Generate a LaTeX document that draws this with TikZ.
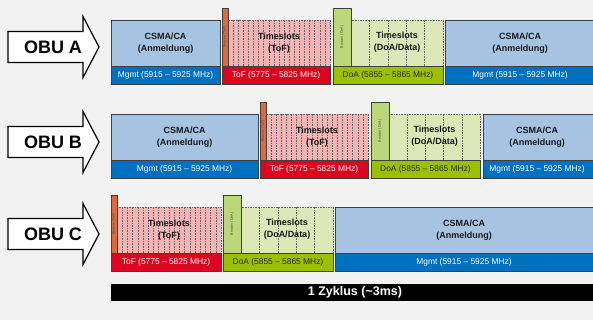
\documentclass[tikz,border=0pt]{standalone}
\usepackage{fontspec}
\setmainfont{Liberation Sans}
\definecolor{bg}{HTML}{F2F2F2}
\definecolor{csma}{HTML}{A6C4E2}
\definecolor{mgmt}{HTML}{0070C0}
\definecolor{tofbar}{HTML}{DC0520}
\definecolor{tofslot}{HTML}{F2B4B4}
\definecolor{tofbeacon}{HTML}{E2683C}
\definecolor{doabar}{HTML}{9BC000}
\definecolor{doaslot}{HTML}{DCE7B8}
\definecolor{doabeacon}{HTML}{BCD67A}
\tikzset{
  frame/.style={draw=black!75, line width=0.7pt},
  slotline/.style={draw=black!60, line width=0.6pt, dash pattern=on 1.6pt off 1pt},
  title/.style={font=\fontsize{9}{12.5}\selectfont\bfseries, align=center, text=black!90, inner sep=0pt},
  bartext/.style={font=\fontsize{8.4}{10}\selectfont, inner sep=0pt},
  beacontext/.style={font=\fontsize{3.6}{4}\selectfont, rotate=90, inner sep=0pt, text=black!70},
  obu/.style={font=\fontsize{18}{20}\selectfont\bfseries, inner sep=0pt},
  arrowshape/.style={draw=black, fill=white, line width=1.2pt, line join=miter},
}
% x1, x2 (box), xc (text centre), top, name
\newcommand{\csmabox}[5]{%
  \fill[csma] (#1,#4) rectangle (#2,#4+46);
  \fill[mgmt] (#1,#4+46) rectangle (#2,#4+64);
  \draw[frame] (#1,#4) rectangle (#2,#4+64);
  \draw[frame] (#1,#4+46) -- (#2,#4+46);
  \node[title] (#5t) at (#3,#4+23) {CSMA/CA\\(Anmeldung)};
  \node[bartext, text=white] (#5b) at (#3,#4+55.5) {Mgmt (5915 -- 5925 MHz)};
}
% x1, x2, top, name
\newcommand{\tofbox}[4]{%
  \fill[tofslot] (#1+6,#3) rectangle (#2,#3+46);
  \foreach \i in {1,...,19}{\draw[slotline] ({#1+6+\i*(#2-#1-6)/20},#3) -- ({#1+6+\i*(#2-#1-6)/20},#3+46);}
  \draw[slotline] (#1+6,#3) rectangle (#2,#3+46);
  \fill[tofbeacon] (#1,#3-12) rectangle (#1+6,#3+46);
  \draw[frame] (#1,#3-12) rectangle (#1+6,#3+46);
  \fill[tofbar] (#1,#3+46) rectangle (#2,#3+64);
  \draw[frame] (#1,#3+46) rectangle (#2,#3+64);
  \node[beacontext] (#4k) at (#1+3,#3+17) {Beacon (ToF)};
  \node[title] (#4t) at ({(#1+6+#2)/2},#3+23) {Timeslots\\(ToF)};
  \node[bartext, text=white] (#4b) at ({(#1+#2)/2},#3+55.5) {ToF (5775 -- 5825 MHz)};
}
% x1, x2, top, name
\newcommand{\doabox}[4]{%
  \fill[doaslot] (#1+18,#3) rectangle (#2,#3+46);
  \foreach \i in {1,...,4}{\draw[slotline] ({#1+18+\i*(#2-#1-18)/5},#3) -- ({#1+18+\i*(#2-#1-18)/5},#3+46);}
  \draw[slotline] (#1+18,#3) rectangle (#2,#3+46);
  \fill[doabeacon] (#1,#3-12) rectangle (#1+18,#3+46);
  \draw[frame] (#1,#3-12) rectangle (#1+18,#3+46);
  \fill[doabar] (#1,#3+46) rectangle (#2,#3+64);
  \draw[frame] (#1,#3+46) rectangle (#2,#3+64);
  \node[beacontext] (#4k) at (#1+9,#3+17) {Beacon (DoA)};
  \node[title] (#4t) at ({(#1+18+#2)/2},#3+22) {Timeslots\\(DoA/Data)};
  \node[bartext, text=black!85] (#4b) at ({(#1+#2)/2},#3+55.5) {DoA (5855 -- 5865 MHz)};
}
% centre y, label, name
\newcommand{\obuarrow}[3]{%
  \draw[arrowshape] (8,#1-15.5) -- (83,#1-15.5) -- (83,#1-30.5) -- (99,#1)
    -- (83,#1+30.5) -- (83,#1+15.5) -- (8,#1+15.5) -- cycle;
  \node[obu] (#3) at (53,#1) {#2};
}
\begin{document}
\begin{tikzpicture}[x=1pt, y=-1pt]
  \useasboundingbox (0,0) rectangle (593,320);
  \clip (0,0) rectangle (593,320);
  \fill[bg] (0,0) rectangle (593,320);

  % OBU A
  \obuarrow{47}{OBU A}{obuA}
  \csmabox{111}{220}{165.5}{20}{Acs1}
  \tofbox{222}{330}{20}{Atof}
  \doabox{333}{443}{20}{Adoa}
  \csmabox{445}{600}{520}{20}{Acs2}

  % OBU B
  \obuarrow{142}{OBU B}{obuB}
  \csmabox{111}{258}{184.5}{114}{Bcs1}
  \tofbox{260}{368}{114}{Btof}
  \doabox{371}{480}{114}{Bdoa}
  \csmabox{483}{600}{537}{114}{Bcs2}

  % OBU C
  \obuarrow{234}{OBU C}{obuC}
  \tofbox{111}{221}{207}{Ctof}
  \doabox{223}{333}{207}{Cdoa}
  \csmabox{335}{600}{464}{207}{Ccs1}

  % cycle bar
  \fill[black] (111,284) rectangle (600,301);
  \node[font=\fontsize{12.5}{14}\selectfont\bfseries, text=white, inner sep=0pt] (cycle) at (355,292.5) {1 Zyklus (\textasciitilde 3ms)};
\end{tikzpicture}
\end{document}
